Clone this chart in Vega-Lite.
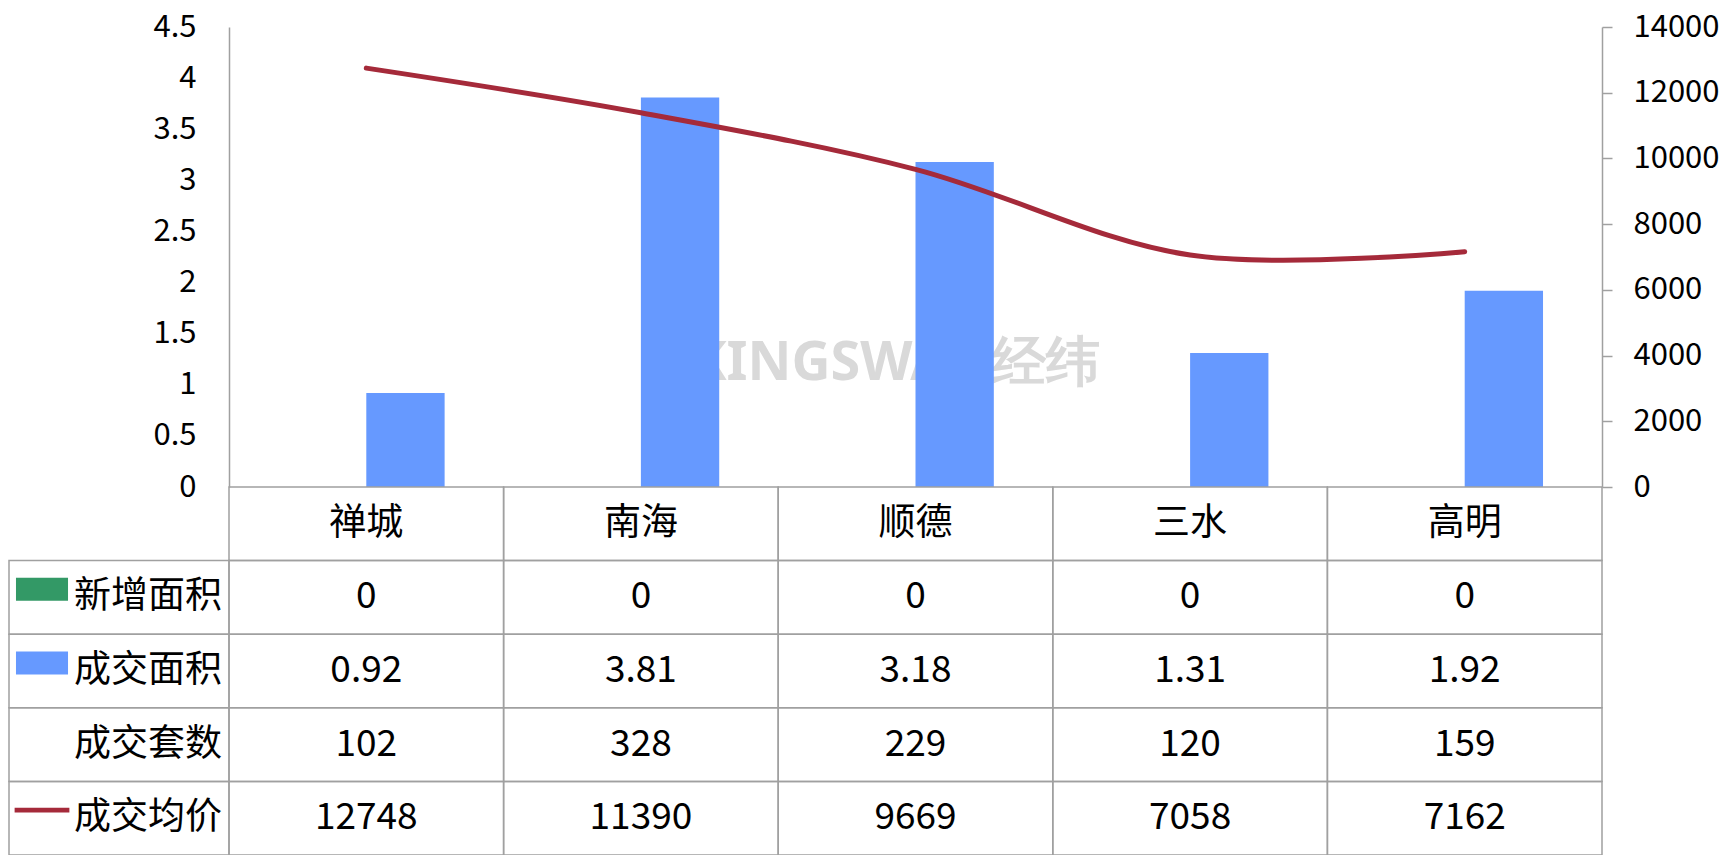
{
  "$schema": "https://vega.github.io/schema/vega-lite/v6.json",
  "background": "white",
  "padding": {"left": 8, "top": 11, "right": 0, "bottom": 0},
  "config": {
    "font": "Noto Sans CJK SC",
    "view": {"stroke": null},
    "axis": {"labelFont": "Noto Sans CJK SC", "labelColor": "#000000", "domainColor": "#A0A0A0", "tickColor": "#A0A0A0", "domainWidth": 1.5, "tickWidth": 1.5, "grid": false}
  },
  "columns": 2,
  "spacing": 0,
  "bounds": "flush",
  "datasets": {
    "bars": [
      {"city": "禅城", "series": "新增面积", "area": 0},
      {"city": "南海", "series": "新增面积", "area": 0},
      {"city": "顺德", "series": "新增面积", "area": 0},
      {"city": "三水", "series": "新增面积", "area": 0},
      {"city": "高明", "series": "新增面积", "area": 0},
      {"city": "禅城", "series": "成交面积", "area": 0.92},
      {"city": "南海", "series": "成交面积", "area": 3.81},
      {"city": "顺德", "series": "成交面积", "area": 3.18},
      {"city": "三水", "series": "成交面积", "area": 1.31},
      {"city": "高明", "series": "成交面积", "area": 1.92}
    ],
    "price": [
      {"city": "禅城", "price": 12748},
      {"city": "南海", "price": 11390},
      {"city": "顺德", "price": 9669},
      {"city": "三水", "price": 7058},
      {"city": "高明", "price": 7162}
    ],
    "table": [
      {"city": "禅城", "row": "地区", "value": "禅城"},
      {"city": "南海", "row": "地区", "value": "南海"},
      {"city": "顺德", "row": "地区", "value": "顺德"},
      {"city": "三水", "row": "地区", "value": "三水"},
      {"city": "高明", "row": "地区", "value": "高明"},
      {"city": "禅城", "row": "新增面积", "value": "0"},
      {"city": "南海", "row": "新增面积", "value": "0"},
      {"city": "顺德", "row": "新增面积", "value": "0"},
      {"city": "三水", "row": "新增面积", "value": "0"},
      {"city": "高明", "row": "新增面积", "value": "0"},
      {"city": "禅城", "row": "成交面积", "value": "0.92"},
      {"city": "南海", "row": "成交面积", "value": "3.81"},
      {"city": "顺德", "row": "成交面积", "value": "3.18"},
      {"city": "三水", "row": "成交面积", "value": "1.31"},
      {"city": "高明", "row": "成交面积", "value": "1.92"},
      {"city": "禅城", "row": "成交套数", "value": "102"},
      {"city": "南海", "row": "成交套数", "value": "328"},
      {"city": "顺德", "row": "成交套数", "value": "229"},
      {"city": "三水", "row": "成交套数", "value": "120"},
      {"city": "高明", "row": "成交套数", "value": "159"},
      {"city": "禅城", "row": "成交均价", "value": "12748"},
      {"city": "南海", "row": "成交均价", "value": "11390"},
      {"city": "顺德", "row": "成交均价", "value": "9669"},
      {"city": "三水", "row": "成交均价", "value": "7058"},
      {"city": "高明", "row": "成交均价", "value": "7162"}
    ],
    "rows": [
      {"row": "新增面积"},
      {"row": "成交面积"},
      {"row": "成交套数"},
      {"row": "成交均价"}
    ]
  },
  "concat": [
    {
      "width": 220,
      "height": 460,
      "data": {"values": [{"blank": ""}]},
      "mark": {"type": "text"},
      "encoding": {"text": {"field": "blank"}}
    },
    {
      "width": 1373,
      "height": 460,
      "layer": [
        {
          "data": {"values": [{"label": "KINGSWAY 经纬"}]},
          "mark": {"type": "text", "fontSize": 54, "fontWeight": "bold", "color": "#D9D9D9", "font": "Noto Sans", "dx": -20, "baseline": "middle"},
          "encoding": {
            "x": {"datum": "顺德", "type": "nominal", "scale": {"type": "band", "domain": ["禅城", "南海", "顺德", "三水", "高明"], "paddingInner": 0, "paddingOuter": 0}, "axis": null},
            "y": {"datum": 1.2, "type": "quantitative", "scale": {"domain": [0, 4.5], "nice": false}, "axis": null},
            "text": {"field": "label"}
          }
        },
        {
          "data": {"name": "bars"},
          "mark": {"type": "bar"},
          "encoding": {
            "x": {"field": "city", "type": "nominal", "sort": null, "scale": {"type": "band", "domain": ["禅城", "南海", "顺德", "三水", "高明"], "paddingInner": 0, "paddingOuter": 0}, "axis": null},
            "xOffset": {"field": "series", "type": "nominal", "scale": {"domain": ["新增面积", "成交面积"], "paddingInner": 0, "paddingOuter": 0.753}},
            "y": {"field": "area", "type": "quantitative", "scale": {"domain": [0, 4.5], "nice": false}, "axis": {"orient": "left", "values": [0, 0.5, 1, 1.5, 2, 2.5, 3, 3.5, 4, 4.5], "format": "~f", "ticks": false, "labelPadding": 33, "labelFontSize": 31, "labelOverlap": false, "title": null}},
            "color": {"field": "series", "type": "nominal", "scale": {"domain": ["新增面积", "成交面积", "成交均价"], "range": ["#339966", "#6699FF", "#A52A3A"]}, "legend": null}
          }
        },
        {
          "data": {"name": "price"},
          "mark": {"type": "line", "interpolate": "catmull-rom", "strokeWidth": 5, "strokeCap": "round", "color": "#A52A3A"},
          "encoding": {
            "x": {"field": "city", "type": "nominal", "sort": null, "scale": {"type": "band", "domain": ["禅城", "南海", "顺德", "三水", "高明"], "paddingInner": 0, "paddingOuter": 0}, "axis": null},
            "y": {"field": "price", "type": "quantitative", "scale": {"domain": [0, 14000], "nice": false}, "axis": {"orient": "right", "values": [0, 2000, 4000, 6000, 8000, 10000, 12000, 14000], "format": "d", "tickSize": 10, "labelPadding": 21, "labelFontSize": 31, "labelOverlap": false, "title": null}}
          }
        }
      ],
      "resolve": {"scale": {"y": "independent"}, "axis": {"y": "independent"}}
    },
    {
      "width": 220,
      "height": 368,
      "data": {"name": "rows"},
      "layer": [
        {
          "mark": {"type": "rect", "fill": "transparent", "stroke": "#A0A0A0", "strokeWidth": 1.5},
          "encoding": {
            "x": {"datum": "图例", "type": "nominal", "scale": {"type": "band", "domain": ["图例"], "paddingInner": 0, "paddingOuter": 0}, "axis": null},
            "y": {"field": "row", "type": "nominal", "scale": {"type": "band", "domain": ["地区", "新增面积", "成交面积", "成交套数", "成交均价"], "paddingInner": 0, "paddingOuter": 0}, "axis": null}
          }
        },
        {
          "transform": [{"filter": "datum.row !== '成交套数'"}],
          "mark": {"type": "point", "filled": true, "size": 3000, "opacity": 1, "strokeWidth": 0},
          "encoding": {
            "x": {"datum": "图例", "type": "nominal", "bandPosition": 0.15, "scale": {"type": "band", "domain": ["图例"], "paddingInner": 0, "paddingOuter": 0}, "axis": null},
            "y": {"field": "row", "type": "nominal", "bandPosition": 0.39, "scale": {"type": "band", "domain": ["地区", "新增面积", "成交面积", "成交套数", "成交均价"], "paddingInner": 0, "paddingOuter": 0}, "axis": null},
            "shape": {"field": "row", "type": "nominal", "scale": {"domain": ["新增面积", "成交面积", "成交均价"], "range": ["M-0.95,-0.42H0.95V0.42H-0.95Z", "M-0.95,-0.42H0.95V0.42H-0.95Z", "M-1,-0.09H1V0.09H-1Z"]}, "legend": null},
            "color": {"field": "row", "type": "nominal", "scale": {"domain": ["新增面积", "成交面积", "成交均价"], "range": ["#339966", "#6699FF", "#A52A3A"]}, "legend": null}
          }
        },
        {
          "mark": {"type": "text", "align": "right", "baseline": "middle", "fontSize": 37, "color": "#000000"},
          "encoding": {
            "x": {"datum": "图例", "type": "nominal", "bandPosition": 0.968, "scale": {"type": "band", "domain": ["图例"], "paddingInner": 0, "paddingOuter": 0}, "axis": null},
            "y": {"field": "row", "type": "nominal", "scale": {"type": "band", "domain": ["地区", "新增面积", "成交面积", "成交套数", "成交均价"], "paddingInner": 0, "paddingOuter": 0}, "axis": null},
            "text": {"field": "row"}
          }
        }
      ]
    },
    {
      "width": 1373,
      "height": 368,
      "data": {"name": "table"},
      "encoding": {
        "x": {"field": "city", "type": "nominal", "sort": null, "scale": {"type": "band", "domain": ["禅城", "南海", "顺德", "三水", "高明"], "paddingInner": 0, "paddingOuter": 0}, "axis": null},
        "y": {"field": "row", "type": "nominal", "scale": {"type": "band", "domain": ["地区", "新增面积", "成交面积", "成交套数", "成交均价"], "paddingInner": 0, "paddingOuter": 0}, "axis": null}
      },
      "layer": [
        {"mark": {"type": "rect", "fill": "transparent", "stroke": "#A0A0A0", "strokeWidth": 1.5}},
        {"mark": {"type": "text", "fontSize": 37, "baseline": "middle", "color": "#000000"}, "encoding": {"text": {"field": "value"}}}
      ]
    }
  ]
}
